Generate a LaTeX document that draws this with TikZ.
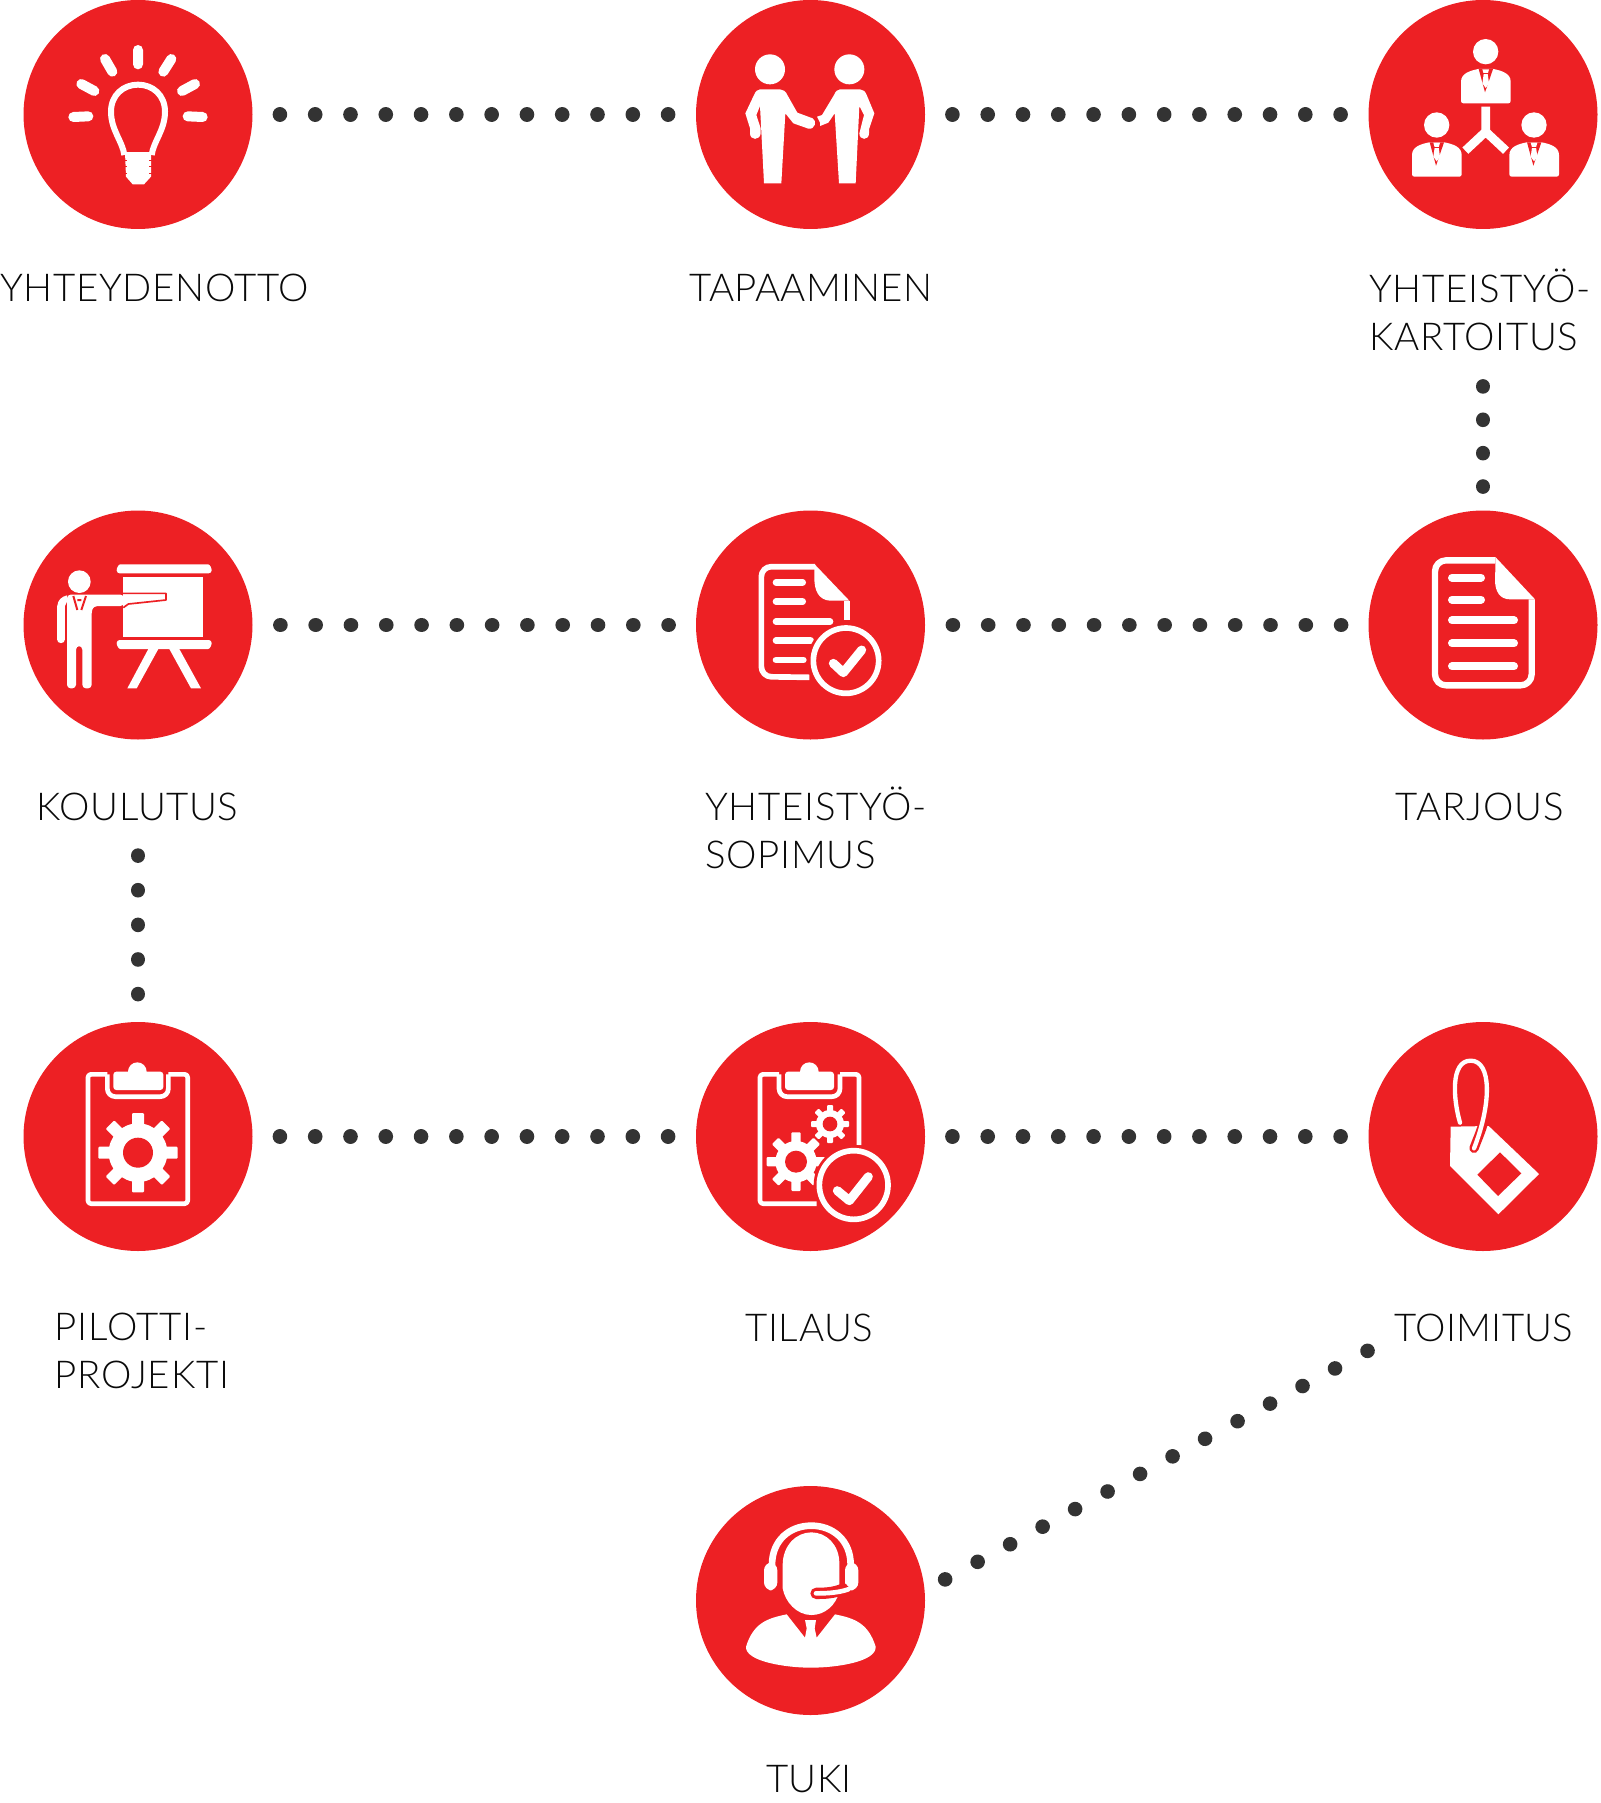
\documentclass[tikz,border=0pt]{standalone}
\usepackage{fontspec}
\setmainfont{Lato Light}[LetterSpace=1.7]
\definecolor{kred}{HTML}{ED2024}
\definecolor{kdot}{HTML}{333333}
\definecolor{ktext}{HTML}{0A0A0A}
% toothed wheel: centre x, centre y, body radius, hole radius, tooth reach, half tooth width
\newcommand{\gearwheel}[6]{
    \foreach \a in {0,45,...,315}
        \fill[white,shift={(#1,#2)},rotate=\a,rounded corners=0.5pt] (-#6,0) rectangle (#6,#5);
    \fill[white] (#1,#2) circle (#3);
    \fill[kred] (#1,#2) circle (#4);
}
\begin{document}
\begin{tikzpicture}[x=0.5pt,y=-0.5pt]
\tikzstyle{ball}=[circle,fill=kred,minimum size=114.5pt,inner sep=0pt,outer sep=0pt]
\tikzstyle{caption}=[anchor=base west,inner sep=0pt,align=left,text=ktext,font=\fontsize{19.2}{24}\selectfont]
\tikzstyle{spaced}=[font=\fontsize{19.2}{24}\selectfont\addfontfeature{LetterSpace=#1}]
\tikzstyle{dotline}=[kdot,line width=7.3pt,line cap=round,dash pattern=on 0.01pt off #1pt]
\tikzstyle{icon}=[x=0.16667pt,y=-0.16667pt,line join=round]
\tikzstyle{zw}=[white,line width=#1*0.16667pt]
\tikzstyle{zr}=[kred,line width=#1*0.16667pt]
    \useasboundingbox (0,0) rectangle (1600,1803);
    \node [ball] (idea) at (138,114.5) {};
    \node [ball] (meet) at (810.5,114.5) {};
    \node [ball] (map) at (1483,114.5) {};
    \node [ball] (train) at (138,625) {};
    \node [ball] (contract) at (810.5,625) {};
    \node [ball] (offer) at (1483,625) {};
    \node [ball] (pilot) at (138,1136.5) {};
    \node [ball] (order) at (810.5,1136.5) {};
    \node [ball] (ship) at (1483,1136.5) {};
    \node [ball] (help) at (810.5,1600.5) {};
    \node [caption] (ideatxt) at (0,301) {YHTEYDENOTTO};
    \node [caption,spaced=0.7] (meettxt) at (689,301) {TAPAAMINEN};
    \node [caption] (maptxt) at (1369,350) {YHTEISTYÖ-\\KARTOITUS};
    \node [caption] (traintxt) at (36,820) {KOULUTUS};
    \node [caption] (contracttxt) at (705,868) {YHTEISTYÖ-\\SOPIMUS};
    \node [caption,spaced=2.6] (offertxt) at (1395,820) {TARJOUS};
    \node [caption,spaced=2.3] (pilottxt) at (54,1388) {PILOTTI-\\PROJEKTI};
    \node [caption] (ordertxt) at (745,1341) {TILAUS};
    \node [caption,spaced=0.9] (shiptxt) at (1394,1341) {TOIMITUS};
    \node [caption,spaced=0.7] (helptxt) at (766,1792) {TUKI};
    \coordinate (mapend) at (1483,386.4);
    \coordinate (trainend) at (138,855.6);
    \coordinate (shipend) at (1368,1350.6);
    % dotted links
    \draw [dotline=17.635,shorten <=13.7pt,shorten >=13.7pt] (idea) -- (meet);
    \draw [dotline=17.635,shorten <=13.7pt,shorten >=13.7pt] (meet) -- (map);
    \draw [dotline=17.635,shorten <=13.7pt,shorten >=13.7pt] (contract) -- (train);
    \draw [dotline=17.635,shorten <=13.7pt,shorten >=13.7pt] (offer) -- (contract);
    \draw [dotline=17.635,shorten <=13.7pt,shorten >=13.7pt] (pilot) -- (order);
    \draw [dotline=17.635,shorten <=13.7pt,shorten >=13.7pt] (order) -- (ship);
    \draw [dotline=16.68,shorten >=11.7pt] (mapend) -- (offer);
    \draw [dotline=17.3,shorten >=13.9pt] (trainend) -- (pilot);
    \draw [dotline=18.46,shorten <=11.7pt] (help.5) -- (shipend);
    % bulb
    \begin{scope}[icon]
        \draw [zw=30,line cap=round] (414,150) -- (414,193) (315,177) -- (337,215) (514,177) -- (490,215)
            (244,252) -- (283,273) (585,252) -- (546,273) (220,351) -- (265,349) (608,351) -- (563,349);
        \draw [zw=18] (373,465) .. controls (368,425) and (333,390) .. (333,335) .. controls (333,285) and (370,254) .. (414,254)
            .. controls (458,254) and (495,285) .. (495,335) .. controls (495,390) and (460,425) .. (455,465);
        \fill [white] (375,456) -- (453,456) -- (453,530) -- (432,553) -- (398,553) -- (378,530) -- cycle;
        \foreach \y in {480,500,520} {
            \draw [zr=3] (373,\y) -- (381,\y) (447,\y) -- (455,\y);
        }
    \end{scope}
    % two people shaking hands
    \begin{scope}[shift={(680,0)},icon]
        \fill [white] (270,208) circle (45) (508,208) circle (45);
        \fill [white] (240,268) -- (300,268) .. controls (310,268) and (318,275) .. (322,285) -- (352,338) -- (398,355)
            .. controls (412,362) and (405,390) .. (385,386) -- (340,370) -- (316,340) -- (304,550) -- (252,550) -- (240,318)
            -- (229,345) -- (242,385) -- (242,400) .. controls (240,422) and (210,422) .. (210,400) -- (210,385) -- (196,340)
            -- (222,285) .. controls (226,275) and (232,268) .. (240,268) -- cycle;
        \fill [white] (480,268) -- (540,268) .. controls (550,268) and (556,275) .. (560,285) -- (583,340) -- (567,388) -- (567,400)
            .. controls (567,422) and (538,422) .. (538,400) -- (552,345) -- (538,318) -- (527,550) -- (477,550) -- (464,340)
            -- (445,368) -- (420,378) -- (420,368) -- (411,350) -- (426,345) -- (462,285) .. controls (466,275) and (472,268) .. (480,268) -- cycle;
    \end{scope}
    % three suits and a fork
    \begin{scope}[shift={(1360,0)},icon]
        \foreach \dx/\dy in {0/0,-147/220,145/220} {
            \begin{scope}[shift={(\dx,\dy)}]
                \fill [white] (377,155) circle (38);
                \fill [white] (310,310) .. controls (306,310) and (303,307) .. (303,303) -- (303,245) .. controls (303,220) and (330,212) .. (355,207) -- (400,207)
                    .. controls (425,212) and (452,220) .. (452,245) -- (452,303) .. controls (452,307) and (449,310) .. (445,310) -- cycle;
                \fill [kred] (356,207) -- (375,277) -- (399,207) -- cycle;
                \fill [white] (367,208) -- (387,208) -- (383,222) -- (387,250) -- (377,264) -- (367,250) -- (371,222) -- cycle;
                \draw [zr=3] (369,222) -- (385,222);
            \end{scope}
        }
        \draw [zw=26] (377,320) -- (377,395) (316,452) -- (377,395) -- (438,452);
    \end{scope}
    % man at a board
    \begin{scope}[shift={(20,510)},icon]
        \fill [white] (178,215) circle (34);
        \fill [white,rounded corners=1.5pt] (290,190) .. controls (290,175) and (295,163) .. (310,163) -- (555,163) .. controls (570,163) and (575,175) .. (575,190) -- cycle;
        \fill [white,rounded corners=1.5pt] (290,390) .. controls (290,405) and (295,417) .. (310,417) -- (555,417) .. controls (570,417) and (575,405) .. (575,390) -- cycle;
        \fill [white] (385,417) -- (415,417) -- (350,535) -- (322,535) -- cycle (448,417) -- (478,417) -- (543,535) -- (513,535) -- cycle;
        \fill [white] (308,200) rectangle (548,380);
        \draw [zr=5] (308,250) -- (438,250) -- (438,270) -- (325,282) -- (310,293);
        \fill [white,rounded corners=1.8pt] (141,254) -- (312,254) -- (312,288) -- (222,288) -- (215,300) -- (215,535) -- (187,535) -- (187,408) -- (168,408) -- (168,535) -- (141,535) -- cycle;
        \draw [zw=23,line cap=round] (123,290) -- (123,388);
        \fill [white] (112,290) .. controls (112,270) and (125,260) .. (141,256) -- (141,275) -- (134,290) -- cycle;
        \draw [zr=6] (160,258) -- (172,300) (198,258) -- (184,300) (172,270) -- (184,270);
    \end{scope}
    % contract with badge
    \begin{scope}[shift={(690,510)},icon]
        \draw [zw=17,rounded corners=5pt] (375,170) -- (214,170) -- (214,500) -- (358,502);
        \fill [white] (373,162) -- (478,272) -- (420,272) .. controls (385,270) and (373,240) .. (373,205) -- cycle;
        \draw [zw=17] (470,272) -- (470,330);
        \draw [zw=20,line cap=round] (258,217) -- (338,217) (258,275) -- (338,275) (258,335) -- (420,335) (258,392) -- (362,392) (258,450) -- (340,450);
        \fill [kred] (468,452) circle (115);
        \draw [zw=17] (468,452) circle (98);
        \draw [zw=27,line cap=round] (430,460) -- (460,488) -- (515,420);
    \end{scope}
    % offer sheet
    \begin{scope}[shift={(1360,510)},icon]
        \draw [zw=19,rounded corners=5.5pt] (407,151) -- (225,151) -- (225,526) -- (515,526) -- (515,268);
        \fill [white] (407,142) -- (525,268) -- (450,268) .. controls (420,268) and (405,245) .. (405,210) -- cycle;
        \draw [zw=24,line cap=round] (276,203) -- (363,203) (276,269) -- (363,269) (276,331) -- (462,331) (276,400) -- (462,400) (276,469) -- (462,469);
    \end{scope}
    % clipboard and wheel
    \begin{scope}[shift={(20,1020)},icon]
        \draw [zw=14,rounded corners=1.5pt] (262,163) -- (204,163) -- (204,551) -- (503,551) -- (503,163) -- (445,163);
        \draw [zw=14,rounded corners=4pt] (262,163) -- (262,230) -- (445,230) -- (445,163);
        \fill [white,rounded corners=1.5pt] (280,155) -- (430,155) -- (430,210) -- (280,210) -- cycle;
        \fill [white] (352,155) circle (28);
        \gearwheel{354}{398}{88}{45}{119}{18}
    \end{scope}
    % clipboard, two wheels, badge
    \begin{scope}[shift={(690,1020)},icon]
        \draw [zw=14,rounded corners=1.5pt] (267,163) -- (210,163) -- (210,551) -- (380,551);
        \draw [zw=14,rounded corners=1.5pt] (450,163) -- (507,163) -- (507,375);
        \draw [zw=14,rounded corners=4pt] (267,163) -- (267,230) -- (450,230) -- (450,163);
        \fill [white,rounded corners=1.5pt] (285,155) -- (432,155) -- (432,210) -- (285,210) -- cycle;
        \fill [white] (358,155) circle (28);
        \gearwheel{318}{425}{62}{33}{88}{14}
        \gearwheel{420}{312}{42}{22}{57}{9}
        \fill [kred] (491,495) circle (120);
        \draw [zw=17] (491,495) circle (103);
        \draw [zw=27,line cap=round] (442,512) -- (478,542) -- (535,470);
    \end{scope}
    % price tag
    \begin{scope}[shift={(1360,1020)},icon]
        \fill [white] (272,320) -- (386,318) -- (537,462) -- (415,583) -- (270,438) -- cycle;
        \fill [kred] (420,397) -- (484,460) -- (414,528) -- (352,464) -- cycle;
        \draw [zr=28,line cap=round] (342,385) .. controls (355,350) and (365,330) .. (372,300);
        \draw [zw=13,line cap=round] (300,308) .. controls (280,240) and (270,122) .. (332,122) .. controls (395,122) and (395,250) .. (342,385);
    \end{scope}
    % agent with headset
    \begin{scope}[shift={(690,1485)},icon]
        \draw [zw=20] (246,240) .. controls (246,165) and (300,122) .. (364,122) .. controls (428,122) and (482,165) .. (482,240);
        \fill [white,rounded corners=4pt] (222,232) -- (262,232) -- (262,316) -- (222,316) -- cycle;
        \fill [white,rounded corners=4pt] (465,232) -- (505,232) -- (505,316) -- (465,316) -- cycle;
        \fill [white] (278,240) .. controls (278,180) and (320,142) .. (364,142) .. controls (410,142) and (448,180) .. (448,235)
            -- (448,320) .. controls (438,360) and (405,390) .. (364,390) .. controls (320,390) and (285,350) .. (278,310) -- cycle;
        \draw [zr=34,line cap=round] (460,312) .. controls (430,325) and (400,325) .. (378,325);
        \draw [zw=14,line cap=round] (475,313) .. controls (440,325) and (400,325) .. (378,325);
        \fill [white] (290,388) .. controls (230,400) and (190,415) .. (168,485) .. controls (165,530) and (290,548) .. (362,548)
            .. controls (440,548) and (560,530) .. (557,485) .. controls (535,415) and (495,400) .. (435,388) -- (380,458) -- (374,430)
            -- (378,405) -- (345,405) -- (350,430) -- (345,458) -- cycle;
    \end{scope}
\end{tikzpicture}
\end{document}
